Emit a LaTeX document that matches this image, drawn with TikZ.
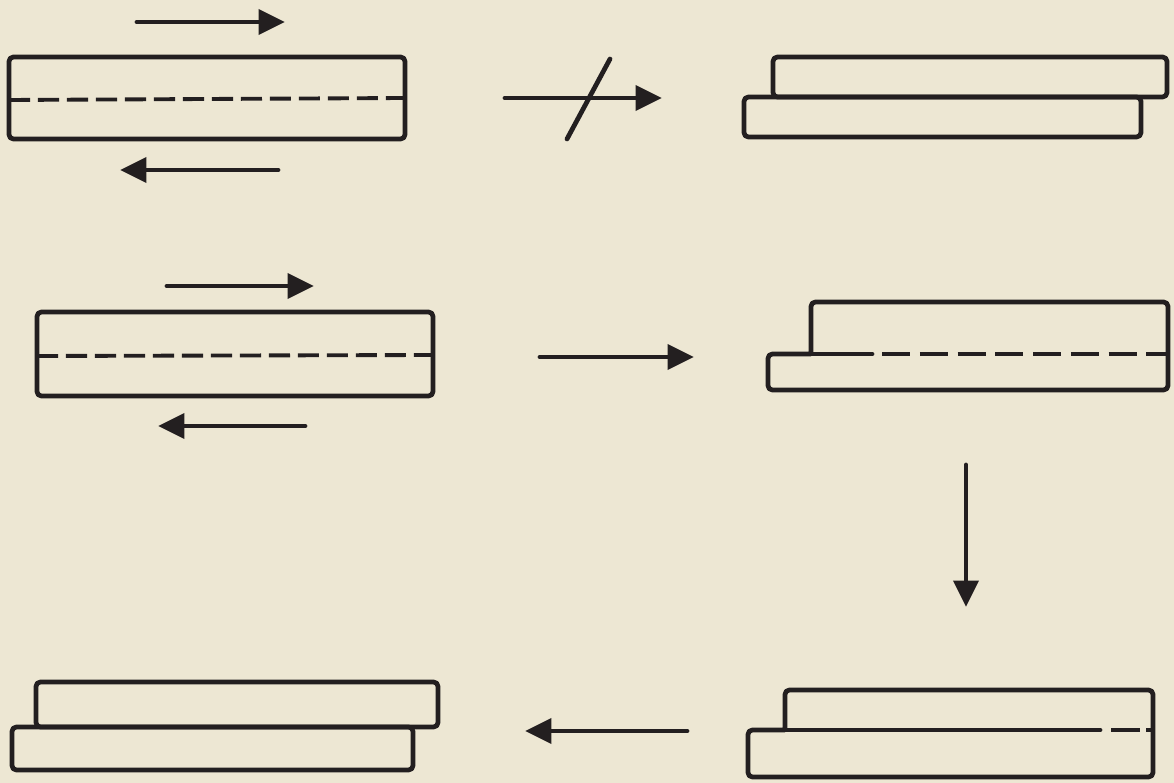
\documentclass[tikz,border=0pt]{standalone}
\usetikzlibrary{arrows.meta}
\definecolor{paper}{HTML}{EDE7D3}
\definecolor{ink}{HTML}{231F20}
\tikzset{
  plate/.style={draw=ink, line width=2.7pt, rounded corners=2.5pt, line join=round},
  seam/.style={draw=ink, line width=2.2pt, dash pattern=on 12pt off 4.5pt},
  seamb/.style={draw=ink, line width=2.4pt, dash pattern=on 16pt off 5.5pt},
  solidseam/.style={draw=ink, line width=2.7pt, line cap=round},
  flow/.style={draw=ink, line width=2.8pt, line cap=round,
    -{Triangle[length=15pt, width=14pt]}},
}
\begin{document}
\begin{tikzpicture}[x=0.02cm, y=-0.02cm]
\useasboundingbox[fill=paper] (0,0) rectangle (1174,783);

% --- top row: sheared block, no slip ---
\draw[plate] (9,57) rectangle (405,139);
\draw[seam] (9,100) -- (405,98);
\coordinate (t1a) at (137,22); \coordinate (t1b) at (285,22);
\coordinate (t2a) at (278,170); \coordinate (t2b) at (120,170);
\draw[flow] (t1a) -- (t1b);
\draw[flow] (t2a) -- (t2b);

% crossed-out transition arrow
\coordinate (x1) at (505,98); \coordinate (x2) at (662,98);
\draw[flow] (x1) -- (x2);
\coordinate (s1) at (567,139); \coordinate (s2) at (610,59);
\draw[draw=ink, line width=2.7pt, line cap=round] (s1) -- (s2);

% fully slipped pair
\draw[plate] (773,97) -- (773,57) -- (1167,57) -- (1167,97) -- cycle;
\draw[plate] (744,97) rectangle (1141,137);

% --- middle row: sheared block ---
\draw[plate] (37,312) rectangle (433,396);
\draw[seam] (37,356) -- (433,355);
\coordinate (m1a) at (167,286); \coordinate (m1b) at (314,286);
\coordinate (m2a) at (305,426); \coordinate (m2b) at (158,426);
\draw[flow] (m1a) -- (m1b);
\draw[flow] (m2a) -- (m2b);

\coordinate (mA) at (540,357); \coordinate (mB) at (694,357);
\draw[flow] (mA) -- (mB);

% partially slipped block
\draw[plate] (811,353) -- (811,302) -- (1168,302) -- (1168,390) -- (768,390) -- (768,354) -- (811,354);
\draw[solidseam] (811,354) -- (872,354);
\draw[seamb] (882,354) -- (1168,354);

\coordinate (dA) at (966,465); \coordinate (dB) at (966,607);
\draw[flow] (dA) -- (dB);

% --- bottom row ---
\draw[plate] (785,730) -- (785,690) -- (1153,690) -- (1153,777) -- (748,777) -- (748,730) -- (785,730);
\draw[solidseam] (785,730) -- (1100,730);
\draw[draw=ink, line width=2.4pt] (1111,730) -- (1140,730);
\draw[draw=ink, line width=2.4pt] (1146,730) -- (1153,730);

\coordinate (bA) at (687,731); \coordinate (bB) at (525,731);
\draw[flow] (bA) -- (bB);

\draw[plate] (36,727) -- (36,682) -- (438,682) -- (438,727) -- cycle;
\draw[plate] (12,727) rectangle (413,770);
\end{tikzpicture}
\end{document}
